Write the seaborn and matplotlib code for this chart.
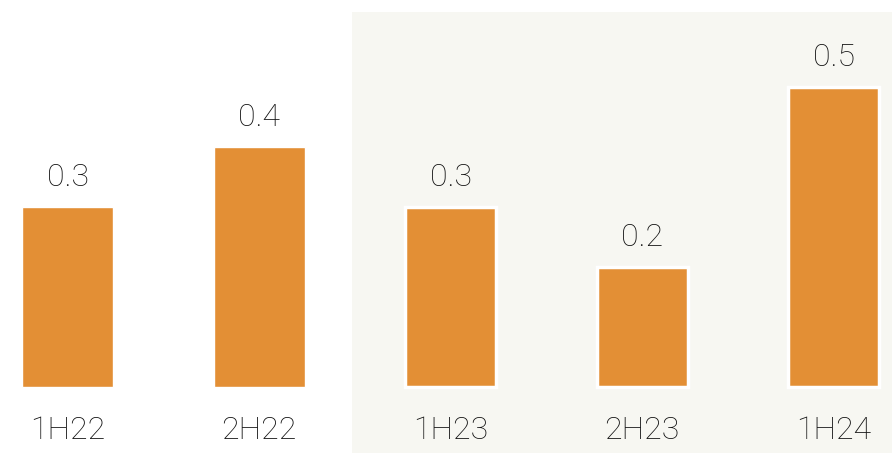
import pandas as pd
import seaborn as sns
import matplotlib.pyplot as plt
from matplotlib.patches import Rectangle

# Half-year values
periods = ['1H22', '2H22', '1H23', '2H23', '1H24']
values = [0.3, 0.4, 0.3, 0.2, 0.5]
labels = ['0.3', '0.4', '0.3', '0.2', '0.5']

df = pd.DataFrame({'period': periods, 'value': values})

sns.set_style('white')
plt.rcParams['font.family'] = ['Roboto', 'DejaVu Sans']

fig = plt.figure(figsize=(8.92, 4.53), dpi=100)
ax = fig.add_axes([0, 0, 1, 1])

# shaded background for the recent periods
ax.add_patch(Rectangle((1.485, -0.2), 3.2, 0.825, facecolor='#F7F7F2',
                       edgecolor='none', zorder=0))

sns.barplot(data=df, x='period', y='value', color='#E38F35', width=0.475,
            saturation=1, ax=ax, zorder=2)

for i, p in enumerate(ax.patches[-len(periods):]):
    if i >= 2:
        p.set_edgecolor('white')
        p.set_linewidth(2.5)
    ax.text(p.get_x() + p.get_width() / 2, p.get_height() + 0.025, labels[i],
            ha='center', va='bottom', fontsize=23, fontweight='light',
            color='#111111')

for i, name in enumerate(periods):
    ax.text(i, -0.073, name, ha='center', va='center', fontsize=23,
            fontweight='light', color='#111111')

ax.set_xlim(-0.3525, 4.305)
ax.set_ylim(-0.11, 0.645)
ax.axis('off')

plt.savefig('out.png', dpi=100)
